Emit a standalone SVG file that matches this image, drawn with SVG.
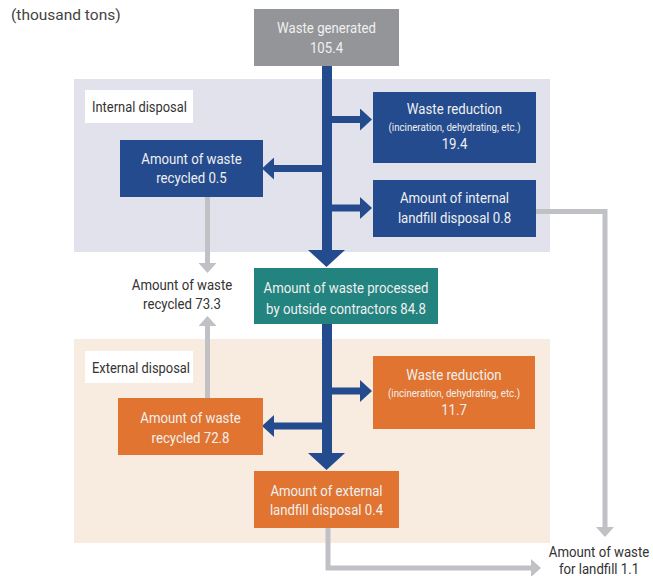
<svg xmlns="http://www.w3.org/2000/svg" width="653" height="576" viewBox="0 0 653 576">
  <style>
    .t { font-family: "Roboto", "Liberation Sans", sans-serif; text-anchor: middle; }
    .w { fill: #f0f0f0; font-size: 15px; }
    .s { fill: #f0f0f0; font-size: 11px; }
    .d { fill: #333333; font-size: 15px; }
    .lbl { fill: #333333; font-size: 15px; text-anchor: start; }
    .blue { fill: #234b8e; }
    .orange { fill: #e07430; }
    .trunk { stroke: #234b8e; stroke-width: 10; fill: none; }
    .branch { stroke: #234b8e; stroke-width: 7; fill: none; marker-end: url(#blueHead); }
    .greyArrow { stroke: #c0c1c4; stroke-width: 5; fill: none; marker-end: url(#greyHead); }
  </style>
  <defs>
    <marker id="blueHead" viewBox="0 0 12 22" markerWidth="12" markerHeight="22" refX="0" refY="11" orient="auto" markerUnits="userSpaceOnUse">
      <path d="M0,0 L12,11 L0,22 Z" fill="#234b8e"/>
    </marker>
    <marker id="greyHead" viewBox="0 0 10 18" markerWidth="10" markerHeight="18" refX="0" refY="9" orient="auto" markerUnits="userSpaceOnUse">
      <path d="M0,0 L10,9 L0,18 Z" fill="#c0c1c4"/>
    </marker>
  </defs>

  <!-- unit note -->
  <text x="11" y="20" font-family="Roboto, 'Liberation Sans', sans-serif" font-size="15.5" fill="#444444">(thousand tons)</text>

  <!-- disposal areas -->
  <rect x="74" y="79" width="476" height="173" fill="#e2e2ec"/>
  <rect x="74" y="339" width="476" height="204" fill="#f8ece1"/>
  <g id="internal-label">
    <rect x="85" y="90" width="108" height="33" fill="#ffffff"/>
    <text class="t lbl" transform="translate(92,112) scale(0.86,1)">Internal disposal</text>
  </g>
  <g id="external-label">
    <rect x="85" y="351" width="108" height="32" fill="#ffffff"/>
    <text class="t lbl" transform="translate(92,373) scale(0.86,1)">External disposal</text>
  </g>

  <!-- connectors -->
  <g id="connectors">
    <line class="trunk" x1="327" y1="66" x2="327" y2="254"/>
    <polygon class="blue" points="308,250 345,250 326.5,267"/>
    <line class="branch" x1="327" y1="119.5" x2="360" y2="119.5"/>
    <line class="branch" x1="327" y1="208" x2="360" y2="208"/>
    <line class="branch" x1="327" y1="168.5" x2="274" y2="168.5"/>

    <line class="trunk" x1="327" y1="324" x2="327" y2="456"/>
    <polygon class="blue" points="308,453 345,453 326.5,470"/>
    <line class="branch" x1="327" y1="391" x2="360" y2="391"/>
    <line class="branch" x1="327" y1="426" x2="274" y2="426"/>

    <line class="greyArrow" x1="207.5" y1="197" x2="207.5" y2="263"/>
    <line class="greyArrow" x1="207.5" y1="398" x2="207.5" y2="326"/>
    <polyline class="greyArrow" points="536,211.5 605,211.5 605,527"/>
    <polyline class="greyArrow" points="328,528 328,568 531,568"/>
  </g>

  <!-- nodes -->
  <g id="waste-generated">
    <rect x="254" y="9" width="145" height="57" fill="#939598"/>
    <text class="t w" transform="translate(326.5,33) scale(0.88,1)">Waste generated</text>
    <text class="t w" transform="translate(326.5,53) scale(0.88,1)">105.4</text>
  </g>

  <g id="int-reduction">
    <rect class="blue" x="373" y="92" width="163" height="71"/>
    <text class="t w" transform="translate(454.5,114) scale(0.88,1)">Waste reduction</text>
    <text class="t s" transform="translate(454.5,131) scale(0.88,1)">(incineration, dehydrating, etc.)</text>
    <text class="t w" transform="translate(454.5,149) scale(0.88,1)">19.4</text>
  </g>

  <g id="int-recycled">
    <rect class="blue" x="120" y="140" width="143" height="57"/>
    <text class="t w" transform="translate(191.5,164) scale(0.88,1)">Amount of waste</text>
    <text class="t w" transform="translate(191.5,183) scale(0.88,1)">recycled 0.5</text>
  </g>

  <g id="int-landfill">
    <rect class="blue" x="373" y="180" width="163" height="57"/>
    <text class="t w" transform="translate(454.5,203) scale(0.88,1)">Amount of internal</text>
    <text class="t w" transform="translate(454.5,223) scale(0.88,1)">landfill disposal 0.8</text>
  </g>

  <g id="total-recycled">
    <text class="t d" transform="translate(182,290) scale(0.88,1)">Amount of waste</text>
    <text class="t d" transform="translate(182,309) scale(0.88,1)">recycled 73.3</text>
  </g>

  <g id="outside-contractors">
    <rect x="254" y="268" width="184" height="56" fill="#23837f"/>
    <text class="t w" transform="translate(346,293) scale(0.88,1)">Amount of waste processed</text>
    <text class="t w" transform="translate(346,314) scale(0.88,1)">by outside contractors 84.8</text>
  </g>

  <g id="ext-reduction">
    <rect class="orange" x="373" y="356" width="162" height="73"/>
    <text class="t w" transform="translate(454,380) scale(0.88,1)">Waste reduction</text>
    <text class="t s" transform="translate(454,397) scale(0.88,1)">(incineration, dehydrating, etc.)</text>
    <text class="t w" transform="translate(454,415) scale(0.88,1)">11.7</text>
  </g>

  <g id="ext-recycled">
    <rect class="orange" x="118" y="398" width="145" height="57"/>
    <text class="t w" transform="translate(190.5,423) scale(0.88,1)">Amount of waste</text>
    <text class="t w" transform="translate(190.5,443) scale(0.88,1)">recycled 72.8</text>
  </g>

  <g id="ext-landfill">
    <rect class="orange" x="254" y="471" width="145" height="57"/>
    <text class="t w" transform="translate(326.5,496) scale(0.88,1)">Amount of external</text>
    <text class="t w" transform="translate(326.5,515) scale(0.88,1)">landfill disposal 0.4</text>
  </g>

  <g id="total-landfill">
    <text class="t d" transform="translate(599,557) scale(0.88,1)">Amount of waste</text>
    <text class="t d" transform="translate(599,574) scale(0.88,1)">for landfill 1.1</text>
  </g>
</svg>
